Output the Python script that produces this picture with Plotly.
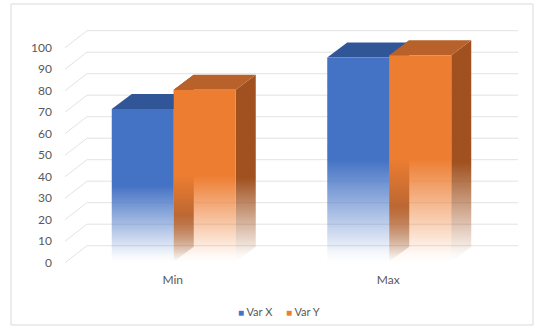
import plotly.graph_objects as go

# ---- data -------------------------------------------------------------
categories = ["Min", "Max"]
series_names = ["Var X", "Var Y"]
var_x = [71, 95]
var_y = [80, 96]
y_ticks = [0, 10, 20, 30, 40, 50, 60, 70, 80, 90, 100]

# ---- pixel layout -----------------------------------------------------
W, H = 538, 329
PLOT_L, PLOT_R, PLOT_T, PLOT_B = 63, 530, 20, 268
FLOOR_LEFT_PX, FLOOR_RIGHT_PX = 65, 496   # front edge of the floor
ZERO_PX = 262.7                           # row of value 0 on the front plane
PX_PER_UNIT = 2.15

px_per_cat = (FLOOR_RIGHT_PX - FLOOR_LEFT_PX) / len(categories)
x_min = -0.5 - (FLOOR_LEFT_PX - PLOT_L) / px_per_cat
x_max = x_min + (PLOT_R - PLOT_L) / px_per_cat
y_max = (ZERO_PX - PLOT_T) / PX_PER_UNIT
y_min = (ZERO_PX - PLOT_B) / PX_PER_UNIT

# oblique depth offsets (in axis units)
WALL_DX, WALL_DY = 22 / px_per_cat, 17 / PX_PER_UNIT
COL_DX, COL_DY = 20 / px_per_cat, 15 / PX_PER_UNIT
FRONT_DX, FRONT_DY = 1 / px_per_cat, 1 / PX_PER_UNIT
COL_W = 62 / px_per_cat

BLUE = (68, 114, 196)
BLUE_TOP = (49, 86, 152)
ORANGE = (237, 125, 49)
ORANGE_TOP = (184, 97, 42)
ORANGE_SIDE = (160, 81, 31)
ORANGE_INNER = (128, 72, 42)
TEXT = "#595959"
GRID = "#E3E3E3"
FONT = "Lato"


def rgba(c, a):
    return f"rgba({c[0]},{c[1]},{c[2]},{a})"


def fade(c, solid_at=0.5):
    return [[0, rgba(c, 0)], [0.04, rgba(c, 0.05)], [solid_at, rgba(c, 1)], [1, rgba(c, 1)]]


def face(xs, ys, color=None, grad=None):
    tr = dict(x=list(xs) + [xs[0]], y=list(ys) + [ys[0]], mode="lines",
              line=dict(width=0), fill="toself", hoverinfo="skip", showlegend=False)
    if grad is not None:
        tr["fillgradient"] = dict(type="vertical", colorscale=grad)
    else:
        tr["fillcolor"] = rgba(color, 1)
    return go.Scatter(**tr)


fig = go.Figure()

# back wall gridlines with their diagonal returns on the side wall
gx, gy = [], []
x_right = -0.5 + len(categories)
for t in y_ticks:
    gx += [-0.5, -0.5 + WALL_DX, x_right + WALL_DX, None]
    gy += [t, t + WALL_DY, t + WALL_DY, None]
fig.add_trace(go.Scatter(x=gx, y=gy, mode="lines", line=dict(color=GRID, width=1),
                         hoverinfo="skip", showlegend=False))

for i, cat in enumerate(categories):
    y0 = FRONT_DY
    # ---- Var X column (left of the pair)
    bx0 = i - COL_W + FRONT_DX
    bx1 = i + FRONT_DX
    by1 = var_x[i] + FRONT_DY
    fig.add_trace(face([bx0, bx1, bx1 + COL_DX, bx0 + COL_DX],
                       [by1, by1, by1 + COL_DY, by1 + COL_DY], color=BLUE_TOP))
    fig.add_trace(face([bx0, bx1, bx1, bx0], [y0, y0, by1, by1], grad=fade(BLUE)))

    # ---- Var Y column (right of the pair)
    ox0 = i + FRONT_DX
    ox1 = i + COL_W + FRONT_DX
    oy1 = var_y[i] + FRONT_DY
    # inner left face, seen through the faded front
    fig.add_trace(face([ox0, ox0 + COL_DX, ox0 + COL_DX, ox0],
                       [y0, y0 + COL_DY, oy1 + COL_DY, oy1],
                       grad=[[0, rgba(ORANGE_INNER, 0)], [0.05, rgba(ORANGE_INNER, 0.2)],
                             [0.25, rgba(ORANGE_INNER, 0.95)], [1, rgba(ORANGE_INNER, 1)]]))
    # right side face
    fig.add_trace(face([ox1, ox1 + COL_DX, ox1 + COL_DX, ox1],
                       [y0, y0 + COL_DY, oy1 + COL_DY, oy1], grad=fade(ORANGE_SIDE, 0.45)))
    # top face
    fig.add_trace(face([ox0, ox1, ox1 + COL_DX, ox0 + COL_DX],
                       [oy1, oy1, oy1 + COL_DY, oy1 + COL_DY], color=ORANGE_TOP))
    # front face
    fig.add_trace(face([ox0, ox1, ox1, ox0], [y0, y0, oy1, oy1], grad=fade(ORANGE)))


def px_to_paper_x(px):
    return (px - PLOT_L) / (PLOT_R - PLOT_L)


def px_to_paper_y(py):
    return (PLOT_B - py) / (PLOT_B - PLOT_T)


# compact legend: coloured square followed by the series name
legend_notes = []
for name, c, left_px in zip(series_names, [BLUE, ORANGE], [236, 284]):
    legend_notes.append(dict(
        xref="paper", yref="paper", x=px_to_paper_x(left_px), y=px_to_paper_y(311),
        xanchor="left", yanchor="middle", showarrow=False,
        text=f"<span style='color:{rgba(c, 1)};font-size:10px'>■</span> {name}",
        font=dict(family=FONT, size=11, color=TEXT)))

fig.update_layout(
    width=W, height=H,
    margin=dict(l=PLOT_L, r=W - PLOT_R, t=PLOT_T, b=H - PLOT_B, pad=0),
    paper_bgcolor="white", plot_bgcolor="white",
    font=dict(family=FONT, size=12, color=TEXT),
    showlegend=False,
    xaxis=dict(range=[x_min, x_max], tickvals=list(range(len(categories))),
               ticktext=categories, showgrid=False, zeroline=False, showline=False,
               ticks="", ticklabelstandoff=3, fixedrange=True),
    yaxis=dict(range=[y_min, y_max], tickvals=y_ticks, showgrid=False, zeroline=False,
               showline=False, ticks="", ticklabelstandoff=10, fixedrange=True),
    annotations=legend_notes,
    shapes=[dict(type="rect", xref="paper", yref="paper",
                 x0=px_to_paper_x(11), x1=px_to_paper_x(533),
                 y0=px_to_paper_y(325), y1=px_to_paper_y(4),
                 line=dict(color="#D9D9D9", width=1), fillcolor="rgba(0,0,0,0)",
                 layer="below")],
)

fig.write_html("out.html")
